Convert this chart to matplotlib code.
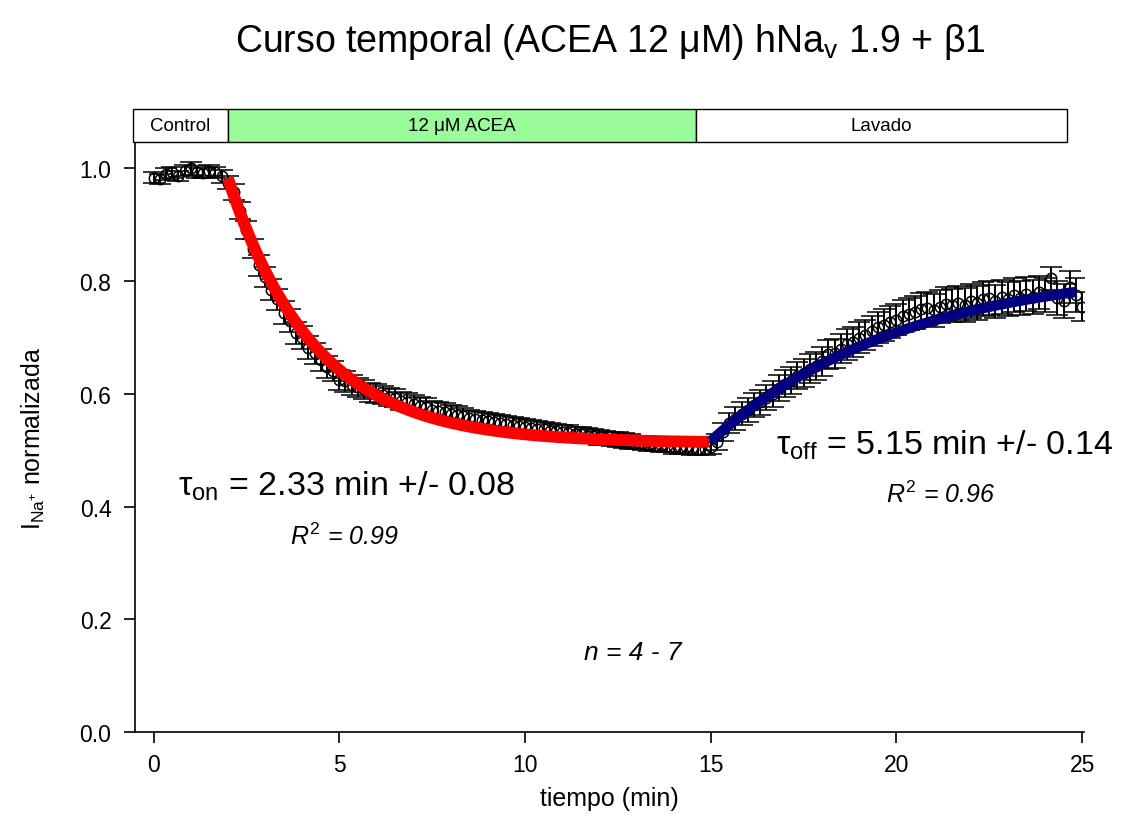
"""
Curso temporal ACEA 12 uM sobre hNav1.9 + b1 (corriente normalizada vs tiempo)
"""

import numpy as np
import matplotlib
matplotlib.use("Agg")
import matplotlib.pyplot as plt
from matplotlib.patches import Rectangle

# ── datos (muestras cada 10 s) ─────────────────────────
SAMPLE_MIN = 10 / 60.0

I_CONTROL = [0.984, 0.982, 0.990, 0.993, 0.987, 0.996, 1.000, 0.994, 0.992, 0.996,
             0.993, 0.986]
I_ACEA = [0.975, 0.958, 0.925, 0.890, 0.858, 0.828,
          0.808, 0.785, 0.768, 0.744, 0.730, 0.708,
          0.700, 0.682, 0.672, 0.660, 0.648, 0.640,
          0.625, 0.622, 0.616, 0.612, 0.608, 0.603,
          0.600, 0.598, 0.594, 0.592, 0.588, 0.586,
          0.582, 0.579, 0.577, 0.572, 0.570, 0.568,
          0.565, 0.563, 0.560, 0.558, 0.556, 0.553,
          0.552, 0.550, 0.548, 0.547, 0.545, 0.543,
          0.542, 0.540, 0.538, 0.537, 0.535, 0.534,
          0.532, 0.531, 0.529, 0.528, 0.526, 0.525,
          0.523, 0.522, 0.520, 0.519, 0.517, 0.516,
          0.514, 0.513, 0.511, 0.510, 0.509, 0.508,
          0.506, 0.506, 0.505, 0.504, 0.503, 0.503]
I_LAVADO = [0.505, 0.515, 0.532, 0.548, 0.556, 0.565,
            0.572, 0.580, 0.585, 0.593, 0.600, 0.610,
            0.618, 0.623, 0.632, 0.637, 0.645, 0.650,
            0.658, 0.670, 0.672, 0.680, 0.688, 0.692,
            0.700, 0.705, 0.712, 0.718, 0.722, 0.728,
            0.732, 0.738, 0.742, 0.745, 0.750, 0.752,
            0.748, 0.755, 0.760, 0.757, 0.762, 0.758,
            0.765, 0.762, 0.768, 0.770, 0.764, 0.772,
            0.768, 0.775, 0.770, 0.777, 0.772, 0.780,
            0.775, 0.805, 0.770, 0.765, 0.790, 0.775,
            0.755]

SEM_CONTROL = [0.010, 0.009, 0.011, 0.010, 0.009, 0.010, 0.011, 0.010, 0.009, 0.010,
               0.010, 0.011]
SEM_ACEA = [0.012, 0.014, 0.015, 0.016, 0.017, 0.018,
            0.018, 0.019, 0.019, 0.020, 0.020, 0.020,
            0.020, 0.020, 0.019, 0.019, 0.019, 0.018,
            0.018, 0.018, 0.018, 0.017, 0.017, 0.017,
            0.017, 0.016, 0.016, 0.016, 0.016, 0.016,
            0.016, 0.015, 0.015, 0.015, 0.015, 0.015,
            0.015, 0.015, 0.015, 0.014, 0.014, 0.014,
            0.014, 0.014, 0.014, 0.014, 0.014, 0.014,
            0.014, 0.014, 0.014, 0.014, 0.013, 0.013,
            0.013, 0.013, 0.013, 0.013, 0.013, 0.013,
            0.013, 0.013, 0.013, 0.013, 0.013, 0.013,
            0.012, 0.012, 0.012, 0.012, 0.012, 0.012,
            0.012, 0.012, 0.012, 0.012, 0.012, 0.012]
SEM_LAVADO = [0.012, 0.014, 0.016, 0.018, 0.020, 0.020,
              0.021, 0.021, 0.022, 0.022, 0.023, 0.023,
              0.024, 0.024, 0.024, 0.025, 0.025, 0.025,
              0.026, 0.026, 0.026, 0.026, 0.027, 0.027,
              0.027, 0.027, 0.027, 0.028, 0.028, 0.028,
              0.028, 0.028, 0.028, 0.029, 0.029, 0.029,
              0.029, 0.029, 0.029, 0.029, 0.030, 0.030,
              0.030, 0.030, 0.030, 0.030, 0.030, 0.030,
              0.030, 0.030, 0.030, 0.030, 0.030, 0.030,
              0.030, 0.020, 0.030, 0.030, 0.028, 0.030,
              0.025]

# ── ajustes exponenciales (parámetros) ────────────────
TAU_ON, ON_T0, ON_T1, ON_PLATEAU, ON_AMP = 2.33, 2.0, 14.95, 0.513, 0.470
TAU_OFF, OFF_T0, OFF_T1, OFF_MAX, OFF_AMP = 5.15, 15.0, 24.85, 0.827, 0.311

# ── barras de condición ───────────────────────────────
COND_LABELS = ["Control", "12 μM ACEA", "Lavado"]
COND_EDGES = [-0.55, 2.0, 14.6, 24.6]
COND_COLORS = ["white", "#99fb99", "white"]

plt.rcParams.update({
    "font.family": ["Liberation Sans", "DejaVu Sans"],
    "mathtext.fontset": "custom",
    "mathtext.rm": "Liberation Sans",
    "mathtext.it": "Liberation Sans:italic",
})

i_all = np.array(I_CONTROL + I_ACEA + I_LAVADO)
sem_all = np.array(SEM_CONTROL + SEM_ACEA + SEM_LAVADO)
t_all = np.arange(len(i_all)) * SAMPLE_MIN

fig = plt.figure(figsize=(11.24, 8.29), dpi=100)
ax = fig.add_axes([0.1201, 0.1158, 0.8443, 0.7117])

ax.errorbar(t_all, i_all, yerr=sem_all, fmt="o", mfc="none", mec="black",
            ms=7.5, mew=1.1, ecolor="black", elinewidth=1.4, capsize=8,
            capthick=1.4, zorder=2)

t_on = np.linspace(ON_T0, ON_T1, 200)
ax.plot(t_on, ON_PLATEAU + ON_AMP * np.exp(-(t_on - ON_T0) / TAU_ON),
        color="#ff0000", lw=8.5, solid_capstyle="butt", zorder=3)
t_off = np.linspace(OFF_T0, OFF_T1, 200)
ax.plot(t_off, OFF_MAX - OFF_AMP * np.exp(-(t_off - OFF_T0) / TAU_OFF),
        color="#000080", lw=7.5, solid_capstyle="butt", zorder=3)

# barras de condición arriba del eje
for lab, x0, x1, col in zip(COND_LABELS, COND_EDGES[:-1], COND_EDGES[1:], COND_COLORS):
    ax.add_patch(Rectangle((x0, 1.047), x1 - x0, 0.059, facecolor=col,
                           edgecolor="black", lw=1.0, clip_on=False, zorder=4))
    ax.text((x0 + x1) / 2, 1.0765, lab, ha="center", va="center",
            fontsize=13.5, clip_on=False, zorder=5)

# ── anotaciones ───────────────────────────────────────
ax.text(5.19, 0.437, r"τ$_{\mathregular{on}}$ = 2.33 min +/- 0.08",
        ha="center", va="center", fontsize=24.5)
ax.text(5.13, 0.348, r"$\mathit{R}^{\mathit{2}}$ = 0.99", style="italic",
        ha="center", va="center", fontsize=18)
ax.text(21.3, 0.511, r"τ$_{\mathregular{off}}$ = 5.15 min +/- 0.14",
        ha="center", va="center", fontsize=24.5)
ax.text(21.2, 0.422, r"$\mathit{R}^{\mathit{2}}$ = 0.96", style="italic",
        ha="center", va="center", fontsize=18)
ax.text(12.9, 0.142, "n = 4 - 7", style="italic", ha="center", va="center",
        fontsize=19)

# ── ejes ──────────────────────────────────────────────
ax.set_xlim(-0.5, 25.05)
ax.set_ylim(0, 1.047)
ax.set_xticks([0, 5, 10, 15, 20, 25])
ax.set_yticks([0.0, 0.2, 0.4, 0.6, 0.8, 1.0])
ax.set_yticklabels(["0.0", "0.2", "0.4", "0.6", "0.8", "1.0"])
ax.tick_params(direction="out", length=8, width=1.2, labelsize=16.5, pad=9)
ax.tick_params(axis="x", pad=7)
for side in ["top", "right"]:
    ax.spines[side].set_visible(False)
for side in ["left", "bottom"]:
    ax.spines[side].set_linewidth(1.2)

ax.set_xlabel("tiempo (min)", fontsize=18)
ax.set_ylabel(r"I$_{\mathregular{Na^{+}}}$ normalizada", fontsize=18)
ax.xaxis.set_label_coords(0.5, -0.092)
ax.yaxis.set_label_coords(-0.093, 0.5)

fig.text(0.543, 0.949, r"Curso temporal (ACEA 12 μM) hNa$_{\mathregular{v}}$ 1.9 + β1",
         ha="center", va="center", fontsize=27)

fig.savefig("out.png", dpi=100, facecolor="white")
plt.close(fig)
